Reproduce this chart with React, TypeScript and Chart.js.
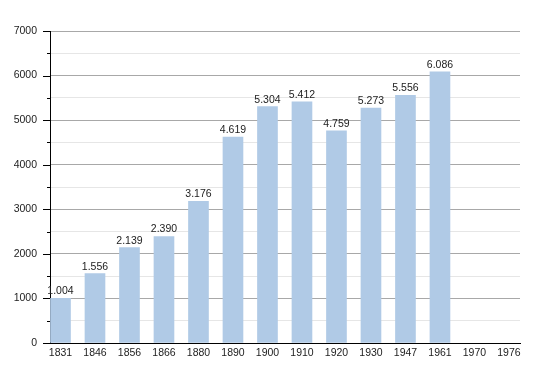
import React, { useEffect, useRef } from "react";
import { Chart, registerables } from "chart.js";

Chart.register(...registerables);

const years = ["1831", "1846", "1856", "1866", "1880", "1890", "1900", "1910", "1920", "1930", "1947", "1961", "1970", "1976"];
const population: (number | null)[] = [1004, 1556, 2139, 2390, 3176, 4619, 5304, 5412, 4759, 5273, 5556, 6086, null, null];
const yTicks = [0, 500, 1000, 1500, 2000, 2500, 3000, 3500, 4000, 4500, 5000, 5500, 6000, 6500, 7000];

const FONT = "'Liberation Sans', Arial, sans-serif";

function fmt(v: number): string {
  return v.toString().replace(/\B(?=(\d{3})+(?!\d))/g, ".");
}

const barLabels = {
  id: "barLabels",
  afterDatasetsDraw(chart: any) {
    const ctx = chart.ctx;
    const meta = chart.getDatasetMeta(0);
    ctx.save();
    ctx.font = `10.5px ${FONT}`;
    ctx.fillStyle = "#222";
    ctx.textAlign = "center";
    ctx.textBaseline = "alphabetic";
    meta.data.forEach((bar: any, i: number) => {
      const v = population[i];
      if (v == null) return;
      ctx.fillText(fmt(v), bar.x, bar.y - 4);
    });
    ctx.restore();
  },
};

const yTickMarks = {
  id: "yTickMarks",
  afterDraw(chart: any) {
    const ctx = chart.ctx;
    const s = chart.scales.y;
    const x0 = chart.chartArea.left;
    ctx.save();
    ctx.strokeStyle = "#000";
    ctx.lineWidth = 1;
    yTicks.forEach((v) => {
      const y = Math.round(s.getPixelForValue(v)) + 0.5;
      const len = v % 1000 === 0 ? 7 : 3;
      ctx.beginPath();
      ctx.moveTo(x0 - len, y);
      ctx.lineTo(x0, y);
      ctx.stroke();
    });
    ctx.restore();
  },
};

export default function App() {
  const ref = useRef<HTMLCanvasElement | null>(null);
  useEffect(() => {
    if (!ref.current) return;
    const chart = new Chart(ref.current, {
      type: "bar",
      data: {
        datasets: [
          {
            data: population.map((v, i) => ({ x: i, y: v })) as any,
            backgroundColor: "#b0cae6",
            borderWidth: 0,
            barThickness: 20,
          },
        ],
      },
      options: {
        animation: false,
        responsive: true,
        maintainAspectRatio: false,
        layout: { padding: { left: 0, top: 31, right: 30, bottom: 0 } },
        plugins: { legend: { display: false }, tooltip: { enabled: false } },
        scales: {
          x: {
            type: "linear",
            offset: false,
            min: -0.304,
            max: 13.32,
            afterBuildTicks: (s: any) => {
              s.ticks = years.map((_, i) => ({ value: i }));
            },
            afterFit: (s: any) => {
              s.height = 30;
            },
            grid: { display: false, drawTicks: false },
            border: { display: true, color: "#000", width: 1 },
            ticks: {
              autoSkip: false,
              maxRotation: 0,
              padding: 4,
              color: "#222",
              font: { family: FONT, size: 10.5 },
              callback: (v: any) => years[v as number] ?? "",
            },
          },
          y: {
            min: 0,
            max: 7000,
            afterBuildTicks: (s: any) => {
              s.ticks = yTicks.map((v) => ({ value: v }));
            },
            afterFit: (s: any) => {
              s.width = 50;
            },
            grid: {
              drawTicks: false,
              color: (c: any) => (c.tick && c.tick.value % 1000 === 0 ? "#a8a8a8" : "#e6e6e6"),
            },
            border: { display: true, color: "#000", width: 1 },
            ticks: {
              padding: 13,
              color: "#222",
              font: { family: FONT, size: 10.5 },
              callback: (v: any) => ((v as number) % 1000 === 0 ? String(v) : ""),
            },
          },
        },
      },
      plugins: [barLabels, yTickMarks],
    });
    return () => chart.destroy();
  }, []);
  return (
    <div style={{ position: "fixed", left: 0, top: 0, width: 550, height: 373, background: "#fff" }}>
      <canvas ref={ref} />
    </div>
  );
}
